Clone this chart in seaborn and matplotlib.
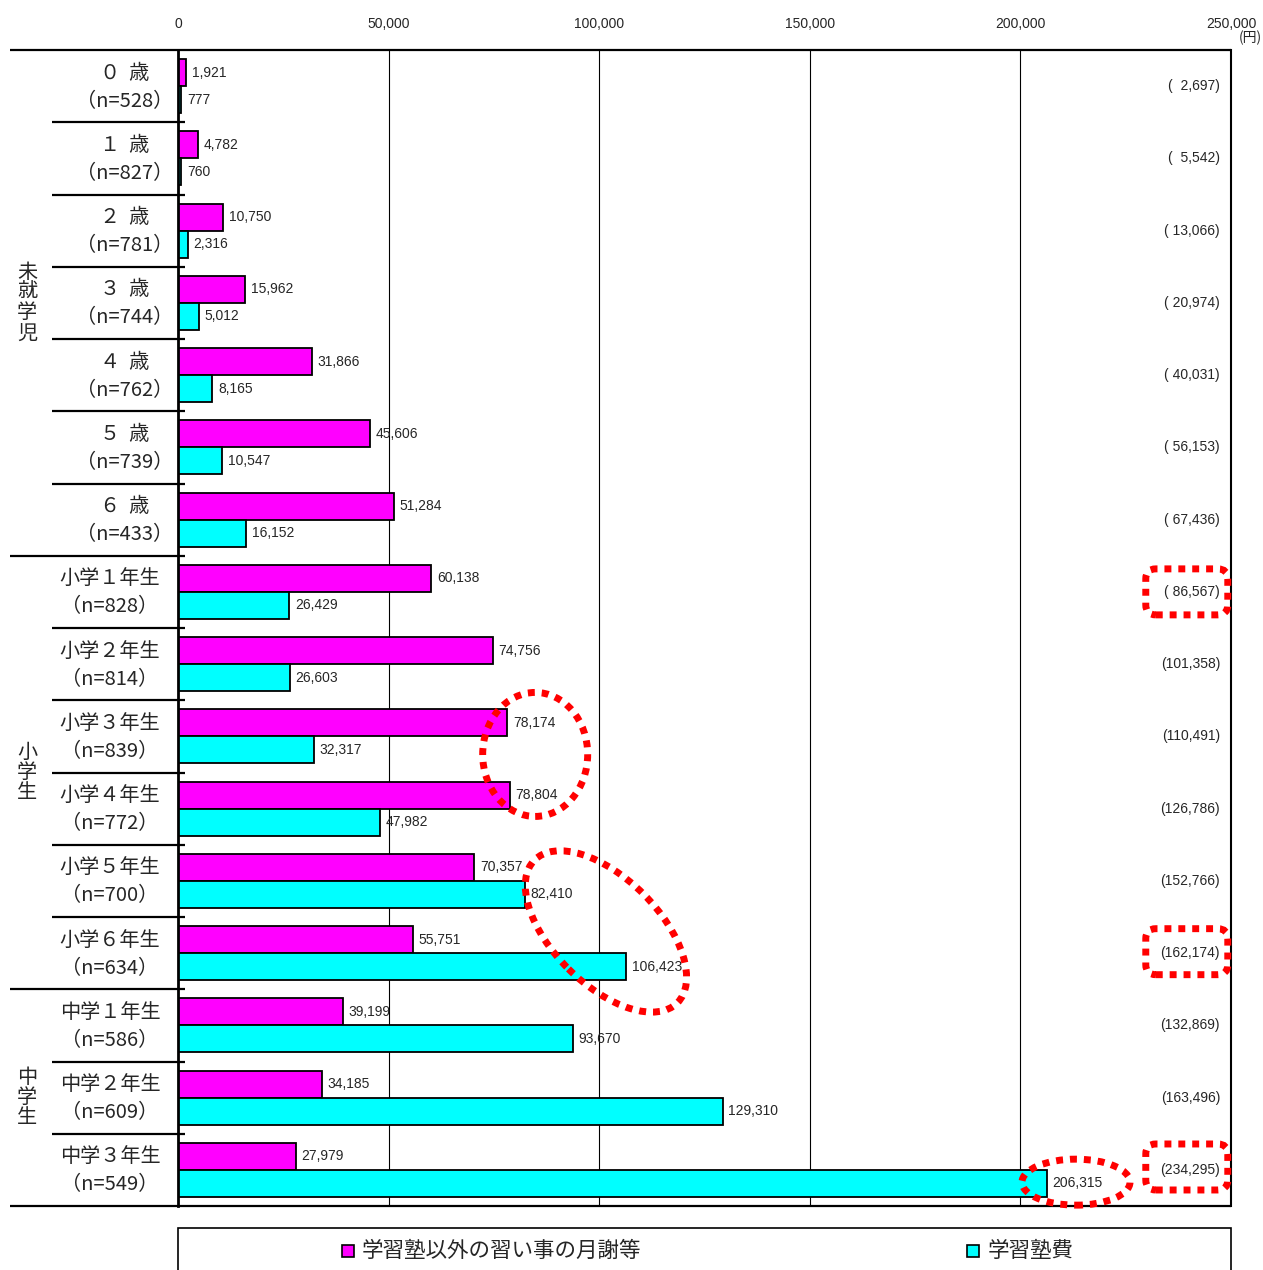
import matplotlib
matplotlib.use('Agg')
import matplotlib.pyplot as plt
import matplotlib.transforms as mtransforms
from matplotlib.patches import Ellipse, FancyBboxPatch, Rectangle
from matplotlib import font_manager
import pandas as pd
import seaborn as sns

# data
categories = ['０  歳', '１  歳', '２  歳', '３  歳', '４  歳', '５  歳', '６  歳',
              '小学１年生', '小学２年生', '小学３年生', '小学４年生', '小学５年生', '小学６年生',
              '中学１年生', '中学２年生', '中学３年生']
sample_n = [528, 827, 781, 744, 762, 739, 433, 828, 814, 839, 772, 700, 634, 586, 609, 549]
lessons = [1921, 4782, 10750, 15962, 31866, 45606, 51284, 60138, 74756, 78174, 78804,
           70357, 55751, 39199, 34185, 27979]
juku = [777, 760, 2316, 5012, 8165, 10547, 16152, 26429, 26603, 32317, 47982,
        82410, 106423, 93670, 129310, 206315]
totals = [2697, 5542, 13066, 20974, 40031, 56153, 67436, 86567, 101358, 110491, 126786,
          152766, 162174, 132869, 163496, 234295]
series_names = ['学習塾以外の習い事の月謝等', '学習塾費']
colors = ['#FF00FF', '#00FFFF']
groups = [('未就学児', 0, 6), ('小学生', 7, 12), ('中学生', 13, 15)]
x_ticks = [0, 50000, 100000, 150000, 200000, 250000]

df = pd.DataFrame({
    'category': categories * 2,
    'series': [series_names[0]] * len(categories) + [series_names[1]] * len(categories),
    'value': lessons + juku,
})

sns.set_theme(style='white')
plt.rcParams['font.family'] = ['Noto Sans CJK JP', 'DejaVu Sans']

# Arial-like font for the numbers
installed = {f.name for f in font_manager.fontManager.ttflist}
num_font = next((f for f in ['Liberation Sans', 'Roboto'] if f in installed), 'DejaVu Sans')

W, H = 1263, 1270
fig = plt.figure(figsize=(W / 100, H / 100), dpi=100)
ax = fig.add_axes([178 / W, 1 - 1206 / H, 1053 / W, 1156 / H])

sns.barplot(data=df, x='value', y='category', hue='series', order=categories,
            hue_order=series_names, palette=colors, orient='h', width=0.75,
            edgecolor='black', linewidth=1.3, saturation=1, legend=False, ax=ax)

ax.set_xlim(0, 250000)
ax.set_ylim(15.5, -0.5)
ax.set_xlabel('')
ax.set_ylabel('')
ax.xaxis.tick_top()
ax.set_xticks(x_ticks)
ax.set_xticklabels([f'{v:,}' for v in x_ticks], fontsize=10, family=num_font)
ax.tick_params(axis='x', length=0, pad=14)
ax.tick_params(axis='y', left=False, labelleft=False)
ax.set_axisbelow(True)
ax.grid(axis='x', color='black', linewidth=0.8)
ax.grid(axis='y', visible=False)
for s in ['top', 'bottom']:
    ax.spines[s].set_visible(False)
ax.spines['left'].set_linewidth(2)
ax.spines['left'].set_color('black')
ax.spines['right'].set_linewidth(1.5)
ax.spines['right'].set_color('black')

# value labels
for cont, vals in zip(ax.containers, [lessons, juku]):
    ax.bar_label(cont, labels=[f'{v:,}' for v in vals], padding=4, fontsize=10,
                 family=num_font)

# totals on the right
tot_trans = mtransforms.blended_transform_factory(ax.transAxes, ax.transData)
for i, t in enumerate(totals):
    ax.text(0.9896, i, '(' + f'{t:,}'.rjust(7) + ')', ha='right', va='center',
            transform=tot_trans, fontsize=10, family=num_font)

# category labels and row separators in the left margin
lbl_trans = mtransforms.blended_transform_factory(fig.transFigure, ax.transData)
for i, (c, n) in enumerate(zip(categories, sample_n)):
    xc = 125 / W if i < 7 else 110 / W
    ax.text(xc, i - 0.18, c, ha='center', va='center', transform=lbl_trans, fontsize=14.5)
    ax.text(xc, i + 0.21, f'（n={n}）', ha='center', va='center', transform=lbl_trans,
            fontsize=14.5)

group_edges = [g[1] - 0.5 for g in groups] + [groups[-1][2] + 0.5]
for b in range(-1, len(categories)):
    y = b + 0.5
    if y in (-0.5, len(categories) - 0.5):
        x0, x1 = 10, 1231
    elif y in group_edges:
        x0, x1 = 10, 185
    else:
        x0, x1 = 52, 185
    ax.plot([x0 / W, x1 / W], [y, y], transform=lbl_trans, color='black', lw=1.6,
            clip_on=False, solid_capstyle='butt')

for name, a, b in groups:
    ax.text(27 / W, (a + b) / 2, '\n'.join(name), ha='center', va='center',
            transform=lbl_trans, fontsize=14.5, linespacing=0.95)

fig.text(1250 / W, 1 - 38 / H, '(円)', ha='center', va='center', fontsize=10)

# red dotted highlights
red = dict(fill=False, edgecolor='red', lw=5, linestyle=(0, (1, 1)))


def to_px(x, y):
    return ax.transData.transform((x, y))


for (dx, dy), w, h, ang in [((84800, 9.25), 105, 124, 0),
                            ((101600, 11.7), 202, 106, -45),
                            ((213200, 15.17), 108, 46, 0)]:
    cx, cy = to_px(dx, dy)
    e = Ellipse((cx, cy), w, h, angle=ang, **red)
    e.set_transform(mtransforms.IdentityTransform())
    fig.add_artist(e)

for row, off in [(7, 0), (12, -0.02), (15, -0.04)]:
    cx, cy = tot_trans.transform((0.958, row + off))
    box = FancyBboxPatch((cx - 41, cy - 23), 82, 46,
                         boxstyle='round,pad=0,rounding_size=10', **red)
    box.set_transform(mtransforms.IdentityTransform())
    fig.add_artist(box)

# legend box at the bottom
fig.add_artist(Rectangle((178 / W, 1 - 1285 / H), 1053 / W, 57 / H, fill=False,
                         edgecolor='black', lw=1.2, transform=fig.transFigure))
for (sx, tx), name, col in zip([(342, 362), (967, 988)], series_names, colors):
    fig.add_artist(Rectangle((sx / W, 1 - 1257 / H), 12 / W, 12 / H, facecolor=col,
                             edgecolor='black', lw=1.2, transform=fig.transFigure))
    fig.text(tx / W, 1 - 1251 / H, name, ha='left', va='center', fontsize=15.5)

plt.savefig('out.png', dpi=100)
